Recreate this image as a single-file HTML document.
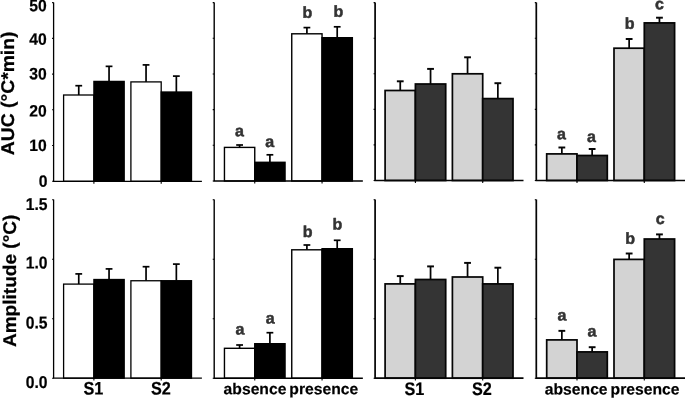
<!DOCTYPE html>
<html><head><meta charset="utf-8"><title>Figure</title>
<style>html,body{margin:0;padding:0;background:#fff;overflow:hidden}svg{display:block}</style>
</head><body>
<svg width="685" height="398" viewBox="0 0 685 398" font-family='"Liberation Sans", sans-serif' font-weight="bold" text-rendering="geometricPrecision">
<rect width="685" height="398" fill="#fff"/>
<path d="M78.75 95.00V85.60" stroke="#000" stroke-width="1.7" fill="none"/><path d="M75.35 85.70H82.15" stroke="#000" stroke-width="1.7" fill="none"/>
<rect x="63.60" y="95.00" width="30.30" height="86.30" fill="#fff" stroke="#000" stroke-width="1.3"/>
<path d="M109.05 81.40V66.25" stroke="#000" stroke-width="1.7" fill="none"/><path d="M105.65 66.35H112.45" stroke="#000" stroke-width="1.7" fill="none"/>
<rect x="93.90" y="81.40" width="30.30" height="99.90" fill="#000" stroke="#000" stroke-width="1.3"/>
<path d="M146.05 81.90V64.80" stroke="#000" stroke-width="1.7" fill="none"/><path d="M142.65 64.90H149.45" stroke="#000" stroke-width="1.7" fill="none"/>
<rect x="130.90" y="81.90" width="30.30" height="99.40" fill="#fff" stroke="#000" stroke-width="1.3"/>
<path d="M176.35 92.00V76.00" stroke="#000" stroke-width="1.7" fill="none"/><path d="M172.95 76.10H179.75" stroke="#000" stroke-width="1.7" fill="none"/>
<rect x="161.20" y="92.00" width="30.30" height="89.30" fill="#000" stroke="#000" stroke-width="1.3"/>
<path d="M53.60 2.40V181.30H201.90" stroke="#000" stroke-width="1.3" fill="none" stroke-linejoin="miter"/>
<path d="M52.10 181.30H53.60M52.10 145.56H53.60M52.10 109.82H53.60M52.10 74.08H53.60M52.10 38.34H53.60M52.10 2.60H53.60M93.90 181.30V183.70M161.20 181.30V183.70" stroke="#000" stroke-width="1.1" fill="none"/>
<path d="M239.60 147.40V144.90" stroke="#000" stroke-width="1.7" fill="none"/><path d="M236.20 145.00H243.00" stroke="#000" stroke-width="1.7" fill="none"/>
<rect x="224.45" y="147.40" width="30.30" height="33.60" fill="#fff" stroke="#000" stroke-width="1.4"/>
<path d="M269.90 162.30V154.70" stroke="#000" stroke-width="1.7" fill="none"/><path d="M266.50 154.80H273.30" stroke="#000" stroke-width="1.7" fill="none"/>
<rect x="254.75" y="162.30" width="30.30" height="18.70" fill="#000" stroke="#000" stroke-width="1.4"/>
<path d="M306.90 33.80V27.50" stroke="#000" stroke-width="1.7" fill="none"/><path d="M303.50 27.60H310.30" stroke="#000" stroke-width="1.7" fill="none"/>
<rect x="291.75" y="33.80" width="30.30" height="147.20" fill="#fff" stroke="#000" stroke-width="1.4"/>
<path d="M337.20 37.70V26.70" stroke="#000" stroke-width="1.7" fill="none"/><path d="M333.80 26.80H340.60" stroke="#000" stroke-width="1.7" fill="none"/>
<rect x="322.05" y="37.70" width="30.30" height="143.30" fill="#000" stroke="#000" stroke-width="1.4"/>
<path d="M214.20 2.40V181.00H362.85" stroke="#000" stroke-width="1.4" fill="none" stroke-linejoin="miter"/>
<path d="M212.70 181.00H214.20M212.70 145.32H214.20M212.70 109.64H214.20M212.70 73.96H214.20M212.70 38.28H214.20M212.70 2.60H214.20M254.75 181.00V183.40M322.05 181.00V183.40" stroke="#000" stroke-width="1.1" fill="none"/>
<path d="M400.25 90.50V81.20" stroke="#050505" stroke-width="1.75" fill="none"/><path d="M396.85 81.30H403.65" stroke="#050505" stroke-width="1.95" fill="none"/>
<rect x="385.10" y="90.50" width="30.30" height="90.00" fill="#d3d3d3" stroke="#050505" stroke-width="1.72"/>
<path d="M430.55 84.00V68.80" stroke="#050505" stroke-width="1.75" fill="none"/><path d="M427.15 68.90H433.95" stroke="#050505" stroke-width="1.95" fill="none"/>
<rect x="415.40" y="84.00" width="30.30" height="96.50" fill="#343434" stroke="#050505" stroke-width="1.72"/>
<path d="M467.55 73.80V57.20" stroke="#050505" stroke-width="1.75" fill="none"/><path d="M464.15 57.30H470.95" stroke="#050505" stroke-width="1.95" fill="none"/>
<rect x="452.40" y="73.80" width="30.30" height="106.70" fill="#d3d3d3" stroke="#050505" stroke-width="1.72"/>
<path d="M497.85 98.60V83.10" stroke="#050505" stroke-width="1.75" fill="none"/><path d="M494.45 83.20H501.25" stroke="#050505" stroke-width="1.95" fill="none"/>
<rect x="482.70" y="98.60" width="30.30" height="81.90" fill="#343434" stroke="#050505" stroke-width="1.72"/>
<path d="M375.10 2.40V180.50H523.50" stroke="#050505" stroke-width="1.72" fill="none" stroke-linejoin="miter"/>
<path d="M373.60 180.50H375.10M373.60 144.92H375.10M373.60 109.34H375.10M373.60 73.76H375.10M373.60 38.18H375.10M373.60 2.60H375.10M415.40 180.50V182.90M482.70 180.50V182.90" stroke="#050505" stroke-width="1.1" fill="none"/>
<path d="M561.85 153.90V147.40" stroke="#050505" stroke-width="1.75" fill="none"/><path d="M558.45 147.50H565.25" stroke="#050505" stroke-width="1.95" fill="none"/>
<rect x="546.70" y="153.90" width="30.30" height="26.60" fill="#d3d3d3" stroke="#050505" stroke-width="1.72"/>
<path d="M592.15 155.50V148.90" stroke="#050505" stroke-width="1.75" fill="none"/><path d="M588.75 149.00H595.55" stroke="#050505" stroke-width="1.95" fill="none"/>
<rect x="577.00" y="155.50" width="30.30" height="25.00" fill="#343434" stroke="#050505" stroke-width="1.72"/>
<path d="M629.15 48.20V38.90" stroke="#050505" stroke-width="1.75" fill="none"/><path d="M625.75 39.00H632.55" stroke="#050505" stroke-width="1.95" fill="none"/>
<rect x="614.00" y="48.20" width="30.30" height="132.30" fill="#d3d3d3" stroke="#050505" stroke-width="1.72"/>
<path d="M659.45 22.90V17.60" stroke="#050505" stroke-width="1.75" fill="none"/><path d="M656.05 17.70H662.85" stroke="#050505" stroke-width="1.95" fill="none"/>
<rect x="644.30" y="22.90" width="30.30" height="157.60" fill="#343434" stroke="#050505" stroke-width="1.72"/>
<path d="M536.30 2.40V180.50H686.00" stroke="#050505" stroke-width="1.72" fill="none" stroke-linejoin="miter"/>
<path d="M534.80 180.50H536.30M534.80 144.92H536.30M534.80 109.34H536.30M534.80 73.76H536.30M534.80 38.18H536.30M534.80 2.60H536.30M577.00 180.50V182.90M644.30 180.50V182.90" stroke="#050505" stroke-width="1.1" fill="none"/>
<path d="M78.75 284.10V273.80" stroke="#000" stroke-width="1.7" fill="none"/><path d="M75.35 273.90H82.15" stroke="#000" stroke-width="1.7" fill="none"/>
<rect x="63.60" y="284.10" width="30.30" height="94.10" fill="#fff" stroke="#000" stroke-width="1.3"/>
<path d="M109.05 279.50V268.80" stroke="#000" stroke-width="1.7" fill="none"/><path d="M105.65 268.90H112.45" stroke="#000" stroke-width="1.7" fill="none"/>
<rect x="93.90" y="279.50" width="30.30" height="98.70" fill="#000" stroke="#000" stroke-width="1.3"/>
<path d="M146.05 280.75V266.60" stroke="#000" stroke-width="1.7" fill="none"/><path d="M142.65 266.70H149.45" stroke="#000" stroke-width="1.7" fill="none"/>
<rect x="130.90" y="280.75" width="30.30" height="97.45" fill="#fff" stroke="#000" stroke-width="1.3"/>
<path d="M176.35 280.70V264.00" stroke="#000" stroke-width="1.7" fill="none"/><path d="M172.95 264.10H179.75" stroke="#000" stroke-width="1.7" fill="none"/>
<rect x="161.20" y="280.70" width="30.30" height="97.50" fill="#000" stroke="#000" stroke-width="1.3"/>
<path d="M53.60 199.40V378.20H201.90" stroke="#000" stroke-width="1.3" fill="none" stroke-linejoin="miter"/>
<path d="M52.10 378.20H53.60M52.10 318.70H53.60M52.10 259.20H53.60M52.10 199.70H53.60M93.90 378.20V380.60M161.20 378.20V380.60" stroke="#000" stroke-width="1.1" fill="none"/>
<path d="M239.60 348.30V344.90" stroke="#000" stroke-width="1.7" fill="none"/><path d="M236.20 345.00H243.00" stroke="#000" stroke-width="1.7" fill="none"/>
<rect x="224.45" y="348.30" width="30.30" height="29.90" fill="#fff" stroke="#000" stroke-width="1.4"/>
<path d="M269.90 343.70V332.60" stroke="#000" stroke-width="1.7" fill="none"/><path d="M266.50 332.70H273.30" stroke="#000" stroke-width="1.7" fill="none"/>
<rect x="254.75" y="343.70" width="30.30" height="34.50" fill="#000" stroke="#000" stroke-width="1.4"/>
<path d="M306.90 249.80V244.90" stroke="#000" stroke-width="1.7" fill="none"/><path d="M303.50 245.00H310.30" stroke="#000" stroke-width="1.7" fill="none"/>
<rect x="291.75" y="249.80" width="30.30" height="128.40" fill="#fff" stroke="#000" stroke-width="1.4"/>
<path d="M337.20 248.70V240.20" stroke="#000" stroke-width="1.7" fill="none"/><path d="M333.80 240.30H340.60" stroke="#000" stroke-width="1.7" fill="none"/>
<rect x="322.05" y="248.70" width="30.30" height="129.50" fill="#000" stroke="#000" stroke-width="1.4"/>
<path d="M214.20 199.40V378.20H362.85" stroke="#000" stroke-width="1.4" fill="none" stroke-linejoin="miter"/>
<path d="M212.70 378.20H214.20M212.70 318.70H214.20M212.70 259.20H214.20M212.70 199.70H214.20M254.75 378.20V380.60M322.05 378.20V380.60" stroke="#000" stroke-width="1.1" fill="none"/>
<path d="M400.25 283.90V276.00" stroke="#050505" stroke-width="1.75" fill="none"/><path d="M396.85 276.10H403.65" stroke="#050505" stroke-width="1.95" fill="none"/>
<rect x="385.10" y="283.90" width="30.30" height="94.30" fill="#d3d3d3" stroke="#050505" stroke-width="1.72"/>
<path d="M430.55 279.50V266.30" stroke="#050505" stroke-width="1.75" fill="none"/><path d="M427.15 266.40H433.95" stroke="#050505" stroke-width="1.95" fill="none"/>
<rect x="415.40" y="279.50" width="30.30" height="98.70" fill="#343434" stroke="#050505" stroke-width="1.72"/>
<path d="M467.55 277.00V262.80" stroke="#050505" stroke-width="1.75" fill="none"/><path d="M464.15 262.90H470.95" stroke="#050505" stroke-width="1.95" fill="none"/>
<rect x="452.40" y="277.00" width="30.30" height="101.20" fill="#d3d3d3" stroke="#050505" stroke-width="1.72"/>
<path d="M497.85 283.90V267.60" stroke="#050505" stroke-width="1.75" fill="none"/><path d="M494.45 267.70H501.25" stroke="#050505" stroke-width="1.95" fill="none"/>
<rect x="482.70" y="283.90" width="30.30" height="94.30" fill="#343434" stroke="#050505" stroke-width="1.72"/>
<path d="M375.10 199.40V378.20H523.50" stroke="#050505" stroke-width="1.72" fill="none" stroke-linejoin="miter"/>
<path d="M373.60 378.20H375.10M373.60 318.70H375.10M373.60 259.20H375.10M373.60 199.70H375.10M415.40 378.20V380.60M482.70 378.20V380.60" stroke="#050505" stroke-width="1.1" fill="none"/>
<path d="M561.85 339.90V330.75" stroke="#050505" stroke-width="1.75" fill="none"/><path d="M558.45 330.85H565.25" stroke="#050505" stroke-width="1.95" fill="none"/>
<rect x="546.70" y="339.90" width="30.30" height="38.30" fill="#d3d3d3" stroke="#050505" stroke-width="1.72"/>
<path d="M592.15 351.90V347.10" stroke="#050505" stroke-width="1.75" fill="none"/><path d="M588.75 347.20H595.55" stroke="#050505" stroke-width="1.95" fill="none"/>
<rect x="577.00" y="351.90" width="30.30" height="26.30" fill="#343434" stroke="#050505" stroke-width="1.72"/>
<path d="M629.15 259.40V253.40" stroke="#050505" stroke-width="1.75" fill="none"/><path d="M625.75 253.50H632.55" stroke="#050505" stroke-width="1.95" fill="none"/>
<rect x="614.00" y="259.40" width="30.30" height="118.80" fill="#d3d3d3" stroke="#050505" stroke-width="1.72"/>
<path d="M659.45 239.00V234.30" stroke="#050505" stroke-width="1.75" fill="none"/><path d="M656.05 234.40H662.85" stroke="#050505" stroke-width="1.95" fill="none"/>
<rect x="644.30" y="239.00" width="30.30" height="139.20" fill="#343434" stroke="#050505" stroke-width="1.72"/>
<path d="M536.30 199.40V378.20H686.00" stroke="#050505" stroke-width="1.72" fill="none" stroke-linejoin="miter"/>
<path d="M534.80 378.20H536.30M534.80 318.70H536.30M534.80 259.20H536.30M534.80 199.70H536.30M577.00 378.20V380.60M644.30 378.20V380.60" stroke="#050505" stroke-width="1.1" fill="none"/>
<text transform="translate(239.35 136.30) rotate(0.03) scale(1.0 1)" font-size="16" text-anchor="middle" fill="#333" stroke="#333" stroke-width="0.5" stroke-linejoin="round">a</text>
<text transform="translate(269.75 147.00) rotate(0.03) scale(1.0 1)" font-size="16" text-anchor="middle" fill="#333" stroke="#333" stroke-width="0.5" stroke-linejoin="round">a</text>
<text transform="translate(307.40 17.70) rotate(0.03) scale(1.0 1)" font-size="16" text-anchor="middle" fill="#333" stroke="#333" stroke-width="0.5" stroke-linejoin="round">b</text>
<text transform="translate(338.40 16.70) rotate(0.03) scale(1.0 1)" font-size="16" text-anchor="middle" fill="#333" stroke="#333" stroke-width="0.5" stroke-linejoin="round">b</text>
<text transform="translate(561.35 139.20) rotate(0.03) scale(1.0 1)" font-size="16" text-anchor="middle" fill="#333" stroke="#333" stroke-width="0.5" stroke-linejoin="round">a</text>
<text transform="translate(591.40 142.10) rotate(0.03) scale(1.0 1)" font-size="16" text-anchor="middle" fill="#333" stroke="#333" stroke-width="0.5" stroke-linejoin="round">a</text>
<text transform="translate(629.65 28.70) rotate(0.03) scale(1.0 1)" font-size="16" text-anchor="middle" fill="#333" stroke="#333" stroke-width="0.5" stroke-linejoin="round">b</text>
<text transform="translate(659.50 9.20) rotate(0.03) scale(1.0 1)" font-size="16" text-anchor="middle" fill="#333" stroke="#333" stroke-width="0.5" stroke-linejoin="round">c</text>
<text transform="translate(239.90 334.60) rotate(0.03) scale(1.0 1)" font-size="16" text-anchor="middle" fill="#333" stroke="#333" stroke-width="0.5" stroke-linejoin="round">a</text>
<text transform="translate(270.10 323.50) rotate(0.03) scale(1.0 1)" font-size="16" text-anchor="middle" fill="#333" stroke="#333" stroke-width="0.5" stroke-linejoin="round">a</text>
<text transform="translate(307.75 237.10) rotate(0.03) scale(1.0 1)" font-size="16" text-anchor="middle" fill="#333" stroke="#333" stroke-width="0.5" stroke-linejoin="round">b</text>
<text transform="translate(337.45 229.60) rotate(0.03) scale(1.0 1)" font-size="16" text-anchor="middle" fill="#333" stroke="#333" stroke-width="0.5" stroke-linejoin="round">b</text>
<text transform="translate(562.05 320.40) rotate(0.03) scale(1.0 1)" font-size="16" text-anchor="middle" fill="#333" stroke="#333" stroke-width="0.5" stroke-linejoin="round">a</text>
<text transform="translate(592.00 336.40) rotate(0.03) scale(1.0 1)" font-size="16" text-anchor="middle" fill="#333" stroke="#333" stroke-width="0.5" stroke-linejoin="round">a</text>
<text transform="translate(630.10 243.70) rotate(0.03) scale(1.0 1)" font-size="16" text-anchor="middle" fill="#333" stroke="#333" stroke-width="0.5" stroke-linejoin="round">b</text>
<text transform="translate(660.30 223.90) rotate(0.03) scale(1.0 1)" font-size="16" text-anchor="middle" fill="#333" stroke="#333" stroke-width="0.5" stroke-linejoin="round">c</text>
<text transform="translate(46.80 11.20) rotate(0.03) scale(1 1.05)" font-size="15.7" text-anchor="end" fill="#000" stroke="#000" stroke-width="0.2">50</text>
<text transform="translate(46.80 44.87) rotate(0.03) scale(1 1.05)" font-size="15.7" text-anchor="end" fill="#000" stroke="#000" stroke-width="0.2">40</text>
<text transform="translate(46.80 79.38) rotate(0.03) scale(1 1.05)" font-size="15.7" text-anchor="end" fill="#000" stroke="#000" stroke-width="0.2">30</text>
<text transform="translate(46.80 116.57) rotate(0.03) scale(1 1.05)" font-size="15.7" text-anchor="end" fill="#000" stroke="#000" stroke-width="0.2">20</text>
<text transform="translate(46.80 151.02) rotate(0.03) scale(1 1.05)" font-size="15.7" text-anchor="end" fill="#000" stroke="#000" stroke-width="0.2">10</text>
<text transform="translate(47.60 186.75) rotate(0.03) scale(1 1.05)" font-size="15.7" text-anchor="end" fill="#000" stroke="#000" stroke-width="0.2">0</text>
<text transform="translate(47.60 210.12) rotate(0.03) scale(1 1.095)" font-size="15.7" text-anchor="end" fill="#000" stroke="#000" stroke-width="0.2">1.5</text>
<text transform="translate(47.60 268.62) rotate(0.03) scale(1 1.095)" font-size="15.7" text-anchor="end" fill="#000" stroke="#000" stroke-width="0.2">1.0</text>
<text transform="translate(47.60 328.43) rotate(0.03) scale(1 1.095)" font-size="15.7" text-anchor="end" fill="#000" stroke="#000" stroke-width="0.2">0.5</text>
<text transform="translate(47.60 388.02) rotate(0.03) scale(1 1.095)" font-size="15.7" text-anchor="end" fill="#000" stroke="#000" stroke-width="0.2">0.0</text>
<text transform="translate(93.30 394.60) rotate(0.03) scale(1 1.115)" font-size="16.2" text-anchor="middle" fill="#000" stroke="#000" stroke-width="0.2">S1</text>
<text transform="translate(160.85 394.60) rotate(0.03) scale(1 1.115)" font-size="16.2" text-anchor="middle" fill="#000" stroke="#000" stroke-width="0.2">S2</text>
<text transform="translate(414.40 394.90) rotate(0.03) scale(1 1.115)" font-size="16.2" text-anchor="middle" fill="#000" stroke="#000" stroke-width="0.2">S1</text>
<text transform="translate(481.95 394.90) rotate(0.03) scale(1 1.115)" font-size="16.2" text-anchor="middle" fill="#000" stroke="#000" stroke-width="0.2">S2</text>
<text transform="translate(255.00 394.20) rotate(0.03) scale(1 1.0)" font-size="15.7" text-anchor="middle" fill="#000" stroke="#000" stroke-width="0.2">absence</text>
<text transform="translate(323.80 394.20) rotate(0.03) scale(1 1.0)" font-size="15.7" text-anchor="middle" fill="#000" stroke="#000" stroke-width="0.2">presence</text>
<text transform="translate(576.20 394.60) rotate(0.03) scale(1 1.0)" font-size="15.7" text-anchor="middle" fill="#000" stroke="#000" stroke-width="0.2">absence</text>
<text transform="translate(645.00 394.60) rotate(0.03) scale(1 1.0)" font-size="15.7" text-anchor="middle" fill="#000" stroke="#000" stroke-width="0.2">presence</text>
<text transform="translate(14.3 155.3) rotate(-90) scale(1.052 1)" font-size="18.4" fill="#000" stroke="#000" stroke-width="0.25">AUC (°C*min)</text>
<text transform="translate(16.3 347.1) rotate(-90) scale(1.036 1)" font-size="18.4" fill="#000" stroke="#000" stroke-width="0.25">Amplitude (°C)</text>
</svg>
</body></html>
